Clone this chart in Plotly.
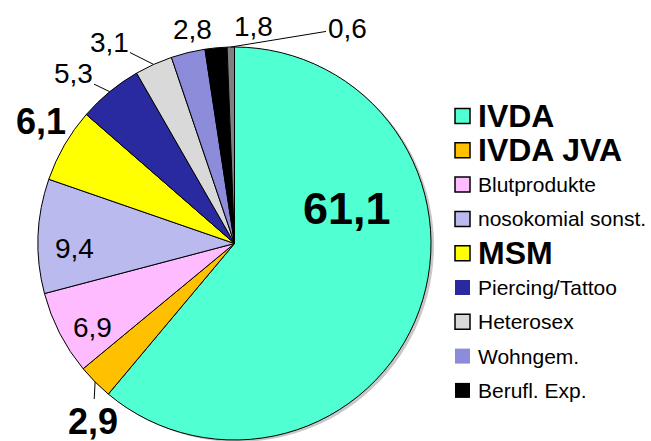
import math
import plotly.graph_objects as go

# ---- data ----
labels = ["IVDA", "IVDA JVA", "Blutprodukte", "nosokomial sonst.", "MSM",
          "Piercing/Tattoo", "Heterosex", "Wohngem.", "Berufl. Exp.", "k. A."]
values = [61.1, 2.9, 6.9, 9.4, 6.1, 5.3, 3.1, 2.8, 1.8, 0.6]
colors = ["#50FFD2", "#FFC000", "#FFBBFF", "#BABAEE", "#FFFF00",
          "#2A2AA0", "#D9D9D9", "#8C8CDA", "#000000", "#808080"]
legend_labels = labels[:9]
legend_bold = [True, True, False, False, True, False, False, False, False]
legend_border = [True, True, True, True, True, False, True, False, False]

# ---- layout / style ----
W, H = 651, 441
CX, CY, R = 234.5, 243.5, 196.5
FONT = "Liberation Sans, Arial, sans-serif"

# label styling per slice: (center px, font size, bold, leader line)
label_style = [
    ((347, 208), 45, True, False),
    ((93, 421), 36, True, True),
    ((92, 327), 28, False, False),
    ((74, 249), 28, False, False),
    ((41, 121), 36, True, False),
    ((73, 74), 28, False, True),
    ((109, 42), 28, False, True),
    ((193, 30), 28, False, False),
    ((253, 26), 28, False, False),
    ((347, 28), 28, False, True),
]


def px(x):
    return x / W


def py(y):
    return 1 - y / H


total = sum(values)
mid_angles = []
cum = 0
for v in values:
    mid_angles.append(math.radians(360 * (cum + v / 2) / total))
    cum += v


def edge_point(i):
    a = mid_angles[i]
    return CX + R * math.sin(a), CY - R * math.cos(a)


fig = go.Figure(go.Pie(
    labels=labels, values=values, sort=False, direction="clockwise", rotation=0,
    marker=dict(colors=colors, line=dict(color="black", width=1)),
    textinfo="none", showlegend=False,
    domain=dict(x=[px(CX - R), px(CX + R)], y=[py(CY + R), py(CY - R)]),
))

annotations = []
for i, v in enumerate(values):
    (lx, ly), size, bold, leader = label_style[i]
    txt = f"{v:.1f}".replace(".", ",")
    if bold:
        txt = f"<b>{txt}</b>"
    font = dict(family=FONT, size=size, color="black")
    if leader:
        ex, ey = edge_point(i)
        annotations.append(dict(
            x=px(ex), y=py(ey), xref="paper", yref="paper", text=txt, font=font,
            showarrow=True, arrowhead=0, arrowwidth=1, arrowcolor="black",
            ax=lx - ex, ay=ly - ey, standoff=0,
        ))
    else:
        annotations.append(dict(
            x=px(lx), y=py(ly), xref="paper", yref="paper", text=txt, font=font,
            showarrow=False, xanchor="center", yanchor="middle",
        ))

shapes = [
    # soft shadow behind the pie
    dict(type="circle", xref="paper", yref="paper", layer="below",
         x0=px(CX - R + 3), x1=px(CX + R + 3), y0=py(CY + R + 2), y1=py(CY - R + 2),
         fillcolor="#C8C8C8", line=dict(width=0)),
]

LEG_X0, SQ = 455, 15
LEG_Y0, LEG_STEP = 116, 34.3
for k, name in enumerate(legend_labels):
    yc = LEG_Y0 + k * LEG_STEP
    shapes.append(dict(
        type="rect", xref="paper", yref="paper",
        x0=px(LEG_X0), x1=px(LEG_X0 + SQ), y0=py(yc + SQ / 2), y1=py(yc - SQ / 2),
        fillcolor=colors[k],
        line=dict(color="black", width=1.5 if legend_border[k] else 0),
    ))
    if legend_bold[k]:
        t, s = f"<b>{name}</b>", 32
    else:
        t, s = name, 21
    annotations.append(dict(
        x=px(LEG_X0 + SQ + 6), y=py(yc), xref="paper", yref="paper", text=t,
        font=dict(family=FONT, size=s, color="black"),
        showarrow=False, xanchor="left", yanchor="middle",
    ))

fig.update_layout(
    width=W, height=H, margin=dict(l=0, r=0, t=0, b=0),
    paper_bgcolor="white", plot_bgcolor="white",
    annotations=annotations, shapes=shapes, showlegend=False,
)

fig.write_html(
    "out.html",
    config={"displayModeBar": False},
    post_script="document.body.style.margin='0';document.body.style.overflow='hidden';",
)
